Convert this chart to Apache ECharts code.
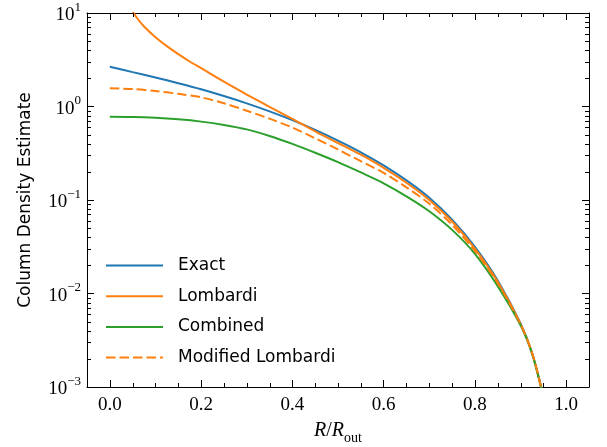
<!DOCTYPE html>
<html>
<head>
<meta charset="utf-8">
<script src="https://cdn.jsdelivr.net/npm/echarts@6/dist/echarts.min.js"></script>
<style>html,body{margin:0;padding:0;background:#fff}#c{width:607px;height:447px}</style>
</head>
<body>
<div id="c"></div>
<script>
// ---- data ----
const seriesNames = ['Exact', 'Lombardi', 'Combined', 'Modified Lombardi'];
const xGrid = [0, 0.05, 0.1, 0.15, 0.2, 0.25, 0.3, 0.35, 0.4, 0.45, 0.5, 0.55, 0.6, 0.65, 0.7, 0.75, 0.8, 0.85, 0.9, 0.925, 0.945, 0.95];
const exactVals = [2.667, 2.333, 2.042, 1.774, 1.528, 1.294, 1.081, 0.887, 0.714, 0.562, 0.4315, 0.3236, 0.2344, 0.1622, 0.1059, 0.0617, 0.0316, 0.0138, 0.00479, 0.00234, 0.001, 0.00076];
const combinedVals = [0.778, 0.773, 0.757, 0.729, 0.689, 0.635, 0.569, 0.484, 0.398, 0.320, 0.254, 0.197, 0.151, 0.1096, 0.0759, 0.0479, 0.0266, 0.0120, 0.00457, 0.00229, 0.001, 0.00076];
const modLombardiVals = [1.563, 1.535, 1.462, 1.368, 1.253, 1.084, 0.902, 0.741, 0.596, 0.457, 0.347, 0.260, 0.195, 0.1365, 0.0912, 0.0543, 0.0285, 0.0129, 0.00468, 0.00234, 0.001, 0.00076];
const lombardiX = [0.045, 0.05, 0.06, 0.075, 0.1, 0.125, 0.15, 0.175, 0.2, 0.25, 0.3, 0.35, 0.4, 0.45, 0.5, 0.55, 0.6, 0.65, 0.7, 0.75, 0.8, 0.85, 0.9, 0.925, 0.945, 0.95];
const lombardiVals = [11.48, 10.4, 8.79, 7.16, 5.5, 4.42, 3.63, 3.03, 2.57, 1.841, 1.343, 0.993, 0.738, 0.543, 0.407, 0.305, 0.221, 0.153, 0.1, 0.0589, 0.0302, 0.01334, 0.00473, 0.00234, 0.001, 0.00076];
const xMajorTicks = [0, 0.2, 0.4, 0.6, 0.8, 1.0];
const yDecades = [0.001, 0.01, 0.1, 1, 10];
const colors = ['#1f77b4', '#ff7f0e', '#2ca02c'];

const pair = (xs, ys) => xs.map((x, i) => [x, ys[i]]);

const SERIF = '"Liberation Serif", "DejaVu Serif", serif';
const SANS = '"DejaVu Sans", sans-serif';

const chart = echarts.init(document.getElementById('c'), null, {renderer: 'canvas'});
const lineW = 2;
const axisLineStyle = {show: true, onZero: false, lineStyle: {color: '#000', width: 1}};
const option = {
  animation: false,
  backgroundColor: '#fff',
  grid: {left: 87, right: 18, top: 13, bottom: 60, containLabel: false, outerBoundsMode: 'none'},
  legend: {
    orient: 'vertical', left: 105, top: 255.5, padding: 0,
    itemWidth: 57, itemHeight: 14, itemGap: 10.7,
    itemStyle: {opacity: 0, borderWidth: 0},
    textStyle: {fontFamily: SANS, fontSize: 17, color: '#000', lineHeight: 20, padding: [0, 0, 0, 10]},
    data: seriesNames
  },
  xAxis: [
    {
      type: 'value', min: -0.05, max: 1.05, position: 'bottom',
      axisLine: axisLineStyle, splitLine: {show: false},
      name: '{i|R}{n|/}{i|R}{sub|out}', nameLocation: 'middle', nameGap: 34,
      nameTextStyle: {rich: {
        i: {fontFamily: SERIF, fontStyle: 'italic', fontSize: 20, color: '#000', lineHeight: 24, verticalAlign: 'top'},
        n: {fontFamily: SERIF, fontSize: 20, color: '#000', lineHeight: 24, verticalAlign: 'top'},
        sub: {fontFamily: SERIF, fontSize: 14, color: '#000', lineHeight: 14, verticalAlign: 'bottom'}
      }},
      axisTick: {show: true, inside: true, length: 7, customValues: xMajorTicks, lineStyle: {color: '#000', width: 1}},
      axisLabel: {show: true, customValues: xMajorTicks, margin: 9, fontFamily: SERIF, fontSize: 19, color: '#000', formatter: v => v.toFixed(1)}
    },
    {
      type: 'value', min: -0.05, max: 1.05, position: 'top',
      axisLine: axisLineStyle, splitLine: {show: false},
      axisTick: {show: true, inside: true, length: 7, customValues: xMajorTicks, lineStyle: {color: '#000', width: 1}},
      axisLabel: {show: false}
    }
  ],
  yAxis: [
    {
      type: 'log', logBase: 10, min: 0.001, max: 10, position: 'left',
      axisLine: axisLineStyle, splitLine: {show: false},
      name: 'Column Density Estimate', nameLocation: 'middle', nameGap: 53,
      nameTextStyle: {fontFamily: SANS, fontSize: 17, color: '#000'},
      axisTick: {show: true, inside: true, length: 7, lineStyle: {color: '#000', width: 1}},
      axisLabel: {
        show: true, margin: 6,
        formatter: v => {
          const e = Math.round(Math.log10(v));
          return '{b|10}{s|' + (e < 0 ? '\u2212' + (-e) : String(e)) + '}';
        },
        rich: {
          b: {fontFamily: SERIF, fontSize: 19, color: '#000', lineHeight: 24, verticalAlign: 'bottom'},
          s: {fontFamily: SERIF, fontSize: 13, color: '#000', lineHeight: 14, verticalAlign: 'top'}
        }
      }
    },
    {
      type: 'log', logBase: 10, min: 0.001, max: 10, position: 'right',
      axisLine: axisLineStyle, splitLine: {show: false},
      axisTick: {show: true, inside: true, length: 7, lineStyle: {color: '#000', width: 1}},
      axisLabel: {show: false}
    }
  ],
  series: [
    {name: 'Exact', type: 'line', data: pair(xGrid, exactVals), color: colors[0]},
    {name: 'Lombardi', type: 'line', data: pair(lombardiX, lombardiVals), color: colors[1]},
    {name: 'Combined', type: 'line', data: pair(xGrid, combinedVals), color: colors[2]},
    {name: 'Modified Lombardi', type: 'line', data: pair(xGrid, modLombardiVals), color: colors[1], lineStyle: {type: [9.5, 4]}}
  ].map(s => Object.assign({
    symbol: 'none', showSymbol: false, smooth: 0.3, clip: true, z: 3,
    xAxisIndex: 0, yAxisIndex: 0
  }, s, {lineStyle: Object.assign({width: lineW, color: s.color}, s.lineStyle || {})}))
};
chart.setOption(option);

// minor ticks (positions computed through the chart's own scales)
function minorTicks() {
  const g = [];
  const yTop = chart.convertToPixel({yAxisIndex: 0}, 10);
  const yBot = chart.convertToPixel({yAxisIndex: 0}, 0.001);
  const xL = chart.convertToPixel({xAxisIndex: 0}, -0.05);
  const xR = chart.convertToPixel({xAxisIndex: 0}, 1.05);
  const minorLen = 4;
  const xm = [];
  for (let k = 0; k <= 20; k++) { if (k % 4 !== 0) xm.push(k * 0.05); }
  xm.forEach(v => {
    const px = Math.round(chart.convertToPixel({xAxisIndex: 0}, v)) + 0.5;
    g.push({type: 'line', shape: {x1: px, y1: yBot, x2: px, y2: yBot - minorLen}, style: {stroke: '#000', lineWidth: 1}, silent: true, z: 10});
    g.push({type: 'line', shape: {x1: px, y1: yTop, x2: px, y2: yTop + minorLen}, style: {stroke: '#000', lineWidth: 1}, silent: true, z: 10});
  });
  for (let d = 0; d < yDecades.length - 1; d++) {
    for (let m = 2; m <= 9; m++) {
      const v = yDecades[d] * m;
      const py = Math.round(chart.convertToPixel({yAxisIndex: 0}, v)) + 0.5;
      g.push({type: 'line', shape: {x1: xL, y1: py, x2: xL + minorLen, y2: py}, style: {stroke: '#000', lineWidth: 1}, silent: true, z: 10});
      g.push({type: 'line', shape: {x1: xR, y1: py, x2: xR - minorLen, y2: py}, style: {stroke: '#000', lineWidth: 1}, silent: true, z: 10});
    }
  }
  chart.setOption({graphic: g});
}
minorTicks();
</script>
</body>
</html>
